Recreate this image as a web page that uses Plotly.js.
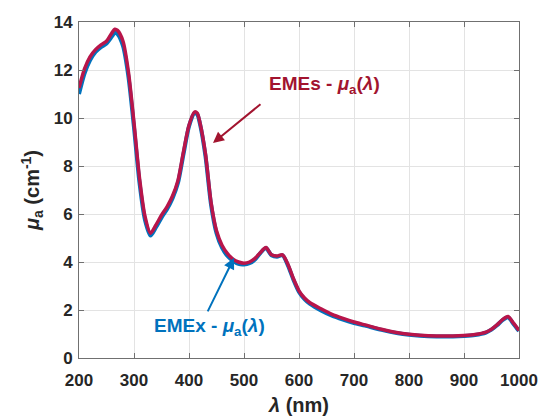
<!DOCTYPE html>
<html>
<head>
<meta charset="utf-8">
<script src="https://cdn.plot.ly/plotly-3.0.1.min.js"></script>
<style>html,body{margin:0;padding:0;background:#fff;}#chart{width:541px;height:416px;}</style>
</head>
<body>
<div id="chart"></div>
<script>
// Wavelength (nm)
const wavelength = [200,210,220,230,240,250,260,265,270,280,290,300,310,320,330,340,350,360,370,380,390,400,410,415,420,430,440,450,460,470,480,490,500,510,520,530,540,550,560,570,580,590,600,610,620,640,660,680,700,720,750,780,800,820,850,880,900,920,940,950,960,970,980,990,1000];
// EMEx absorption coefficient (cm^-1)
const emex = [11.0,11.85,12.4,12.75,12.95,13.1,13.4,13.55,13.5,13.0,11.7,9.6,7.3,5.75,5.1,5.45,5.85,6.2,6.65,7.3,8.5,9.65,10.2,10.15,9.75,8.4,6.4,5.2,4.6,4.25,4.05,3.92,3.9,3.95,4.1,4.38,4.58,4.28,4.22,4.28,3.85,3.25,2.75,2.45,2.25,1.98,1.76,1.6,1.46,1.35,1.17,1.03,0.97,0.93,0.9,0.9,0.92,0.96,1.06,1.18,1.36,1.58,1.7,1.42,1.12];
// EMEs absorption coefficient (cm^-1)
const emes = [11.25,12.05,12.55,12.85,13.05,13.2,13.55,13.7,13.65,13.2,11.9,9.8,7.5,5.9,5.2,5.55,5.95,6.3,6.75,7.4,8.6,9.7,10.25,10.2,9.8,8.5,6.5,5.3,4.7,4.35,4.12,4.0,3.95,4.0,4.15,4.4,4.6,4.3,4.25,4.3,3.9,3.3,2.8,2.5,2.3,2.05,1.82,1.65,1.5,1.38,1.2,1.05,0.99,0.95,0.92,0.92,0.94,0.98,1.08,1.2,1.38,1.6,1.73,1.45,1.15];
const xTicks = [200,300,400,500,600,700,800,900,1000];
const yTicks = [0,2,4,6,8,10,12,14];

const blue = '#0072BD';
const red = '#B8154A';
const redText = '#A2142F';
const fam = 'Liberation Sans, Arial, sans-serif';

const traces = [
  {x: wavelength, y: emex, type: 'scatter', mode: 'lines', line: {color: blue, width: 4, shape: 'spline', smoothing: 0.7}, hoverinfo: 'skip'},
  {x: wavelength, y: emes, type: 'scatter', mode: 'lines', line: {color: red, width: 3.5, shape: 'spline', smoothing: 0.7}, hoverinfo: 'skip'}
];

const axisCommon = {
  showgrid: true, gridcolor: '#e3e3e3', gridwidth: 1,
  showline: true, linecolor: '#707070', linewidth: 1,
  mirror: 'ticks', ticks: 'inside', ticklen: 5, tickcolor: '#707070',
  zeroline: false,
  tickfont: {family: fam, size: 17, color: '#262626', weight: 'bold'}
};

const layout = {
  width: 541, height: 416,
  margin: {l: 79, r: 22, t: 22, b: 58},
  paper_bgcolor: '#fff', plot_bgcolor: '#fff',
  showlegend: false,
  font: {family: fam, color: '#262626'},
  xaxis: Object.assign({}, axisCommon, {
    range: [200, 1000], tickvals: xTicks, ticktext: xTicks.map(String),
    ticklabelstandoff: 7,
    title: {text: '<b><i>λ</i> (nm)</b>', font: {family: fam, size: 20, color: '#262626'}, standoff: 8}
  }),
  yaxis: Object.assign({}, axisCommon, {
    range: [0, 14], tickvals: yTicks, ticktext: yTicks.map(String),
    ticklabelstandoff: 2,
    title: {text: '<b><i>μ</i><sub>a</sub> (cm<sup>-1</sup>)</b>', font: {family: fam, size: 20, color: '#262626'}, standoff: 8}
  }),
  annotations: [
    {x: 647, y: 11.375, xref: 'x', yref: 'y', text: '<b>EMEs - <i>μ</i><sub>a</sub>(<i>λ</i>)</b>', showarrow: false, font: {family: fam, size: 19, color: redText}},
    {x: 443.6, y: 8.96, xref: 'x', yref: 'y', ax: 49, ay: -40, text: '', showarrow: true, arrowhead: 2, arrowsize: 1.1, arrowwidth: 2, arrowcolor: redText},
    {x: 438, y: 1.29, xref: 'x', yref: 'y', text: '<b>EMEx - <i>μ</i><sub>a</sub>(<i>λ</i>)</b>', showarrow: false, font: {family: fam, size: 19, color: blue}},
    {x: 481.8, y: 4.17, xref: 'x', yref: 'y', ax: -27, ay: 55, text: '', showarrow: true, arrowhead: 2, arrowsize: 1.1, arrowwidth: 2, arrowcolor: blue}
  ]
};

Plotly.newPlot('chart', traces, layout, {staticPlot: true, displayModeBar: false});
</script>
</body>
</html>
